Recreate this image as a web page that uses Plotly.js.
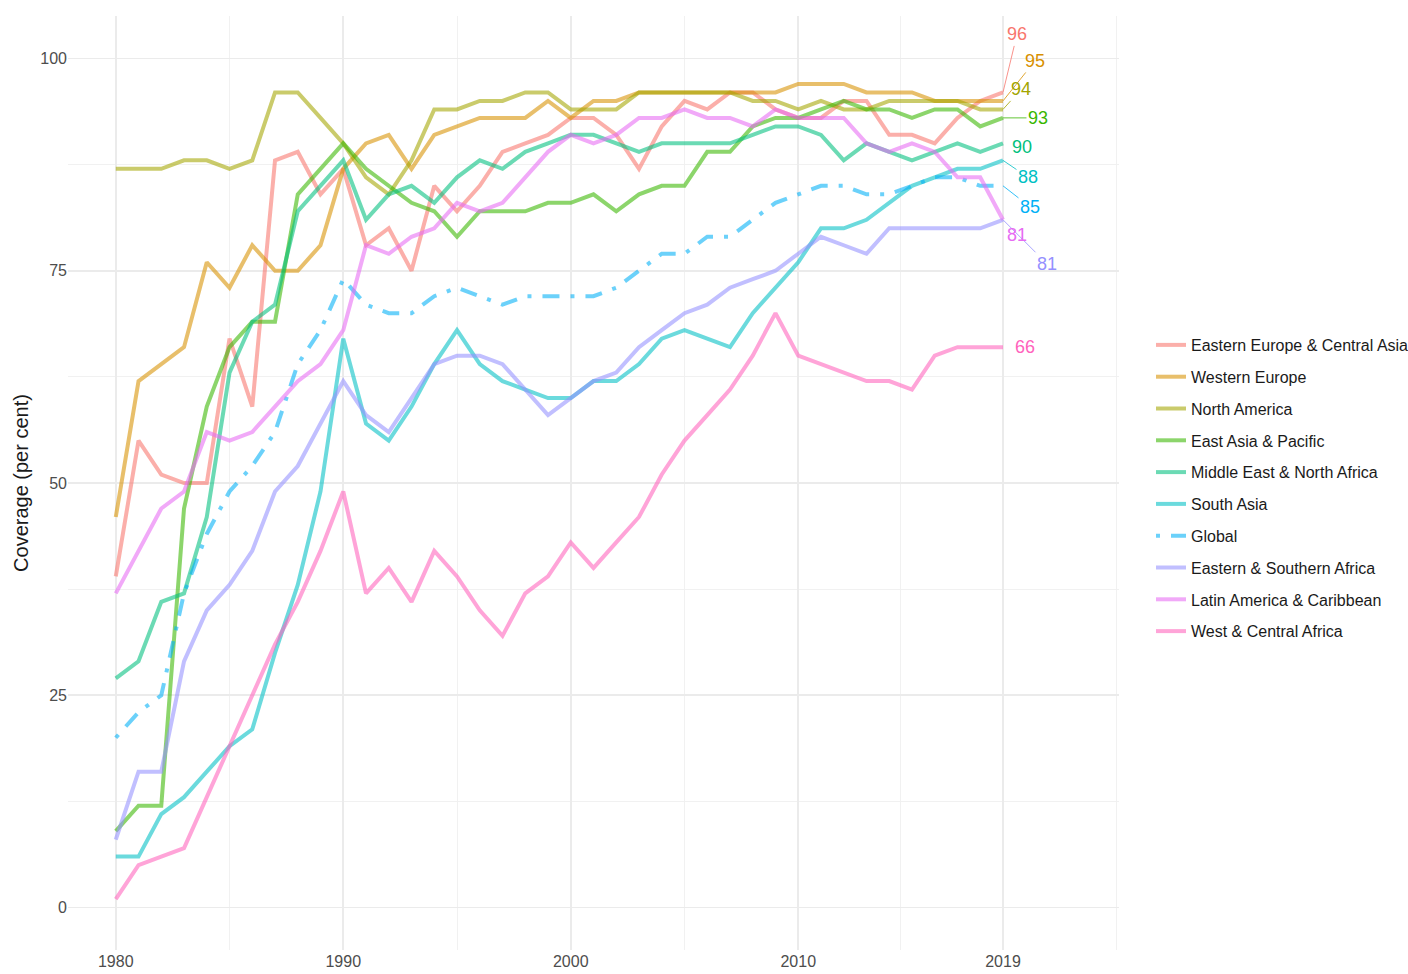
<!DOCTYPE html>
<html>
<head>
<meta charset="utf-8">
<script src="https://cdn.plot.ly/plotly-3.0.1.min.js"></script>
<style>
  html, body { margin: 0; padding: 0; background: #ffffff; }
  #chart { width: 1408px; height: 974px; }
</style>
</head>
<body>
<div id="chart"></div>
<script>
// ---- Data ----
const years = [1980,1981,1982,1983,1984,1985,1986,1987,1988,1989,
               1990,1991,1992,1993,1994,1995,1996,1997,1998,1999,
               2000,2001,2002,2003,2004,2005,2006,2007,2008,2009,
               2010,2011,2012,2013,2014,2015,2016,2017,2018,2019];

const regionNames = ["Eastern Europe & Central Asia","Western Europe","North America",
  "East Asia & Pacific","Middle East & North Africa","South Asia","Global",
  "Eastern & Southern Africa","Latin America & Caribbean","West & Central Africa"];

const easternEuropeCentralAsia = [39,55,51,50,50,67,59,88,89,84, 87,78,80,75,85,82,85,89,90,91, 93,93,91,87,92,95,94,96,96,94, 93,93,95,95,91,91,90,93,95,96];
const westernEurope            = [46,62,64,66,76,73,78,75,75,78, 87,90,91,87,91,92,93,93,93,95, 93,95,95,96,96,96,96,96,96,96, 97,97,97,96,96,96,95,95,95,95];
const northAmerica             = [87,87,87,88,88,87,88,96,96,93, 90,86,84,88,94,94,95,95,96,96, 94,94,94,96,96,96,96,96,95,95, 94,95,94,94,95,95,95,95,94,94];
const eastAsiaPacific          = [9,12,12,47,59,66,69,69,84,87, 90,87,85,83,82,79,82,82,82,83, 83,84,82,84,85,85,89,89,92,93, 93,94,95,94,94,93,94,94,92,93];
const middleEastNorthAfrica    = [27,29,36,37,46,63,69,71,82,85, 88,81,84,85,83,86,88,87,89,90, 91,91,90,89,90,90,90,90,91,92, 92,91,88,90,89,88,89,90,89,90];
const southAsia                = [6,6,11,13,16,19,21,30,38,49, 67,57,55,59,64,68,64,62,61,60, 60,62,62,64,67,68,67,66,70,73, 76,80,80,81,83,85,86,87,87,88];
const globalCoverage           = [20,23,25,37,44,49,52,56,64,68, 74,71,70,70,72,73,72,71,72,72, 72,72,73,75,77,77,79,79,81,83, 84,85,85,84,84,85,86,86,85,85];
const easternSouthernAfrica    = [8,16,16,29,35,38,42,49,52,57, 62,58,56,60,64,65,65,64,61,58, 60,62,63,66,68,70,71,73,74,75, 77,79,78,77,80,80,80,80,80,81];
const latinAmericaCaribbean    = [37,42,47,49,56,55,56,59,62,64, 68,78,77,79,80,83,82,83,86,89, 91,90,91,93,93,94,93,93,92,94, 93,93,93,90,89,90,89,86,86,81];
const westCentralAfrica        = [1,5,6,7,13,19,25,31,36,42, 49,37,40,36,42,39,35,32,37,39, 43,40,43,46,51,55,58,61,65,70, 65,64,63,62,62,61,65,66,66,66];

const seriesValues = [easternEuropeCentralAsia, westernEurope, northAmerica, eastAsiaPacific,
  middleEastNorthAfrica, southAsia, globalCoverage, easternSouthernAfrica,
  latinAmericaCaribbean, westCentralAfrica];

const xTickVals = [1980, 1990, 2000, 2010, 2019];
const yTickVals = [0, 25, 50, 75, 100];

// ---- Styles ----
const hues = ["#F8766D","#D89000","#A3A500","#39B600","#00BF7D","#00BFC4","#00B0F6","#9590FF","#E76BF3","#FF62BC"];
function withAlpha(hex, a) {
  const r = parseInt(hex.slice(1,3),16), g = parseInt(hex.slice(3,5),16), b = parseInt(hex.slice(5,7),16);
  return `rgba(${r},${g},${b},${a})`;
}
// end-label placement: [dx, dy (px, screen), draw leader?]
const labelPlacement = [
  [14, -58, true], [32, -40, true], [18, -20, true], [35, 0, true], [19, 4, false],
  [25, 17, true], [27, 21, true], [44, 44, true], [14, 15, false], [22, 0, false]
];

const traces = regionNames.map((name, i) => ({
  type: "scatter",
  mode: "lines",
  name: name,
  legendgroup: name,
  x: years,
  y: seriesValues[i],
  line: {
    color: withAlpha(hues[i], 0.58),
    width: 4,
    dash: name === "Global" ? "4px,11px,17px,11px" : "solid"
  },
  hoverinfo: "x+y+name"
}));

const annotations = regionNames.map((name, i) => {
  const vals = seriesValues[i];
  const last = vals[vals.length - 1];
  const [dx, dy, leader] = labelPlacement[i];
  const base = {
    x: years[years.length - 1],
    y: last,
    xref: "x", yref: "y",
    text: String(last),
    font: { family: "Liberation Sans, Arial, sans-serif", size: 18, color: hues[i] }
  };
  if (leader) {
    return Object.assign(base, {
      showarrow: true, ax: dx, ay: dy, arrowhead: 0, arrowwidth: 0.8,
      arrowcolor: hues[i], standoff: 0, startstandoff: 0
    });
  }
  return Object.assign(base, { showarrow: false, xshift: dx, yshift: -dy });
});

const layout = {
  width: 1408,
  height: 974,
  margin: { l: 68, r: 289, t: 16, b: 24, autoexpand: false },
  paper_bgcolor: "#ffffff",
  plot_bgcolor: "#ffffff",
  font: { family: "Liberation Sans, Arial, sans-serif", size: 16, color: "#1a1a1a" },
  showlegend: true,
  xaxis: {
    range: [1977.9, 2024.1],
    tickmode: "array",
    tickvals: xTickVals,
    ticktext: xTickVals.map(String),
    showgrid: true,
    gridcolor: "#EBEBEB",
    gridwidth: 1.6,
    zeroline: false,
    showline: false,
    ticks: "",
    tickfont: { size: 16, color: "#4D4D4D" },
    minor: { tickmode: "array", tickvals: [1985, 1995, 2005, 2014.5, 2024], showgrid: true, gridcolor: "#EFEFEF", gridwidth: 0.9 },
    automargin: false
  },
  yaxis: {
    range: [-5, 105],
    tickmode: "array",
    tickvals: yTickVals,
    ticktext: yTickVals.map(String),
    showgrid: true,
    gridcolor: "#EBEBEB",
    gridwidth: 1.6,
    zeroline: false,
    showline: false,
    ticks: "",
    tickfont: { size: 16, color: "#4D4D4D" },
    minor: { tickmode: "array", tickvals: [12.5, 37.5, 62.5, 87.5], showgrid: true, gridcolor: "#EFEFEF", gridwidth: 0.9 },
    title: { text: "Coverage (per cent)", font: { size: 20, color: "#1a1a1a" }, standoff: 6 },
    automargin: false
  },
  legend: {
    xref: "container", x: 1151 / 1408, xanchor: "left",
    yref: "container", y: 1 - 328 / 974, yanchor: "top",
    bgcolor: "rgba(0,0,0,0)",
    font: { size: 16, color: "#1a1a1a" },
    tracegroupgap: 8,
    traceorder: "grouped"
  },
  annotations: annotations
};

Plotly.newPlot("chart", traces, layout, { displayModeBar: false, staticPlot: true });
</script>
</body>
</html>
